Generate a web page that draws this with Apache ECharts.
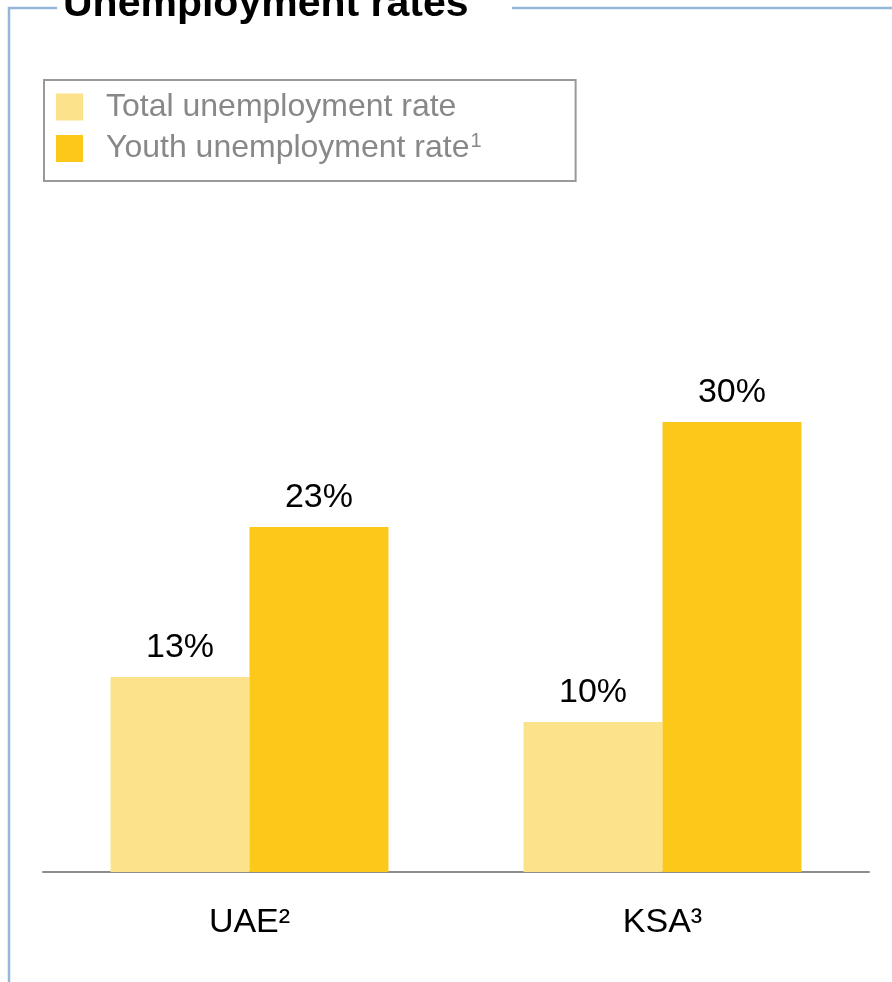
<!DOCTYPE html>
<html>
<head>
<meta charset="utf-8">
<title>Unemployment rates</title>
<script src="https://cdn.jsdelivr.net/npm/echarts@6/dist/echarts.min.js"></script>
<style>
  html, body { margin: 0; padding: 0; background: #ffffff; }
  #chart { width: 892px; height: 982px; }
</style>
</head>
<body>
<div id="chart"></div>
<script>
// Countries on the category axis
const countries = ['UAE²', 'KSA³'];
// Unemployment rates in percent
const totalRate = [13, 10];
const youthRate = [23, 30];
const seriesNames = ['Total unemployment rate', 'Youth unemployment rate¹'];

const FONT = '"Liberation Sans", Arial, Helvetica, sans-serif';
const FRAME = '#93b6da';

const chart = echarts.init(document.getElementById('chart'), null, { renderer: 'canvas' });

const barLabel = {
  show: true,
  position: 'top',
  distance: 12,
  formatter: '{c}%',
  color: '#000000',
  fontSize: 34,
  fontFamily: FONT
};

chart.setOption({
  backgroundColor: '#ffffff',
  animation: false,
  grid: { left: 43, right: 23, top: 272, bottom: 110, containLabel: false },
  legend: {
    orient: 'vertical',
    left: 44,
    top: 80,
    padding: [11, 94, 15, 12],
    itemWidth: 27,
    itemHeight: 27,
    itemGap: 8,
    icon: 'rect',
    borderColor: '#999999',
    borderWidth: 2,
    selectedMode: false,
    // footnote marker on the series name is set as a raised small digit
    formatter: function (name) {
      return name.replace('¹', '{sup|1}');
    },
    textStyle: {
      color: '#888888',
      fontSize: 32,
      lineHeight: 27,
      fontFamily: FONT,
      padding: [0, 0, 0, 18],
      rich: {
        sup: {
          color: '#888888',
          fontSize: 20,
          fontFamily: FONT,
          lineHeight: 12,
          padding: [0, 0, 15, 1]
        }
      }
    },
    data: seriesNames
  },
  xAxis: {
    type: 'category',
    data: countries,
    axisLine: { show: true, lineStyle: { color: '#8c8c8c', width: 2 } },
    axisTick: { show: false },
    axisLabel: { color: '#000000', fontSize: 34, fontFamily: FONT, margin: 34 },
    splitLine: { show: false }
  },
  yAxis: {
    type: 'value',
    min: 0,
    max: 40,
    show: false,
    splitLine: { show: false }
  },
  series: [
    {
      name: seriesNames[0],
      type: 'bar',
      data: totalRate,
      barGap: 0,
      barCategoryGap: '32.7%',
      itemStyle: { color: '#fce38b' },
      label: barLabel
    },
    {
      name: seriesNames[1],
      type: 'bar',
      data: youthRate,
      barGap: 0,
      barCategoryGap: '32.7%',
      itemStyle: { color: '#fcc81a' },
      label: barLabel
    }
  ],
  graphic: [
    // Panel frame: left edge and top edge broken around the heading
    {
      type: 'polyline',
      silent: true,
      shape: { points: [[57, 8], [9, 8], [9, 982]] },
      style: { stroke: FRAME, lineWidth: 2.5, fill: null }
    },
    {
      type: 'line',
      silent: true,
      shape: { x1: 512, y1: 8, x2: 892, y2: 8 },
      style: { stroke: FRAME, lineWidth: 2.5 }
    },
    {
      type: 'text',
      silent: true,
      x: 63,
      y: 25,
      style: {
        text: 'Unemployment rates',
        fill: '#000000',
        font: 'bold 41px ' + FONT,
        verticalAlign: 'bottom',
        align: 'left'
      }
    }
  ]
});
</script>
</body>
</html>
